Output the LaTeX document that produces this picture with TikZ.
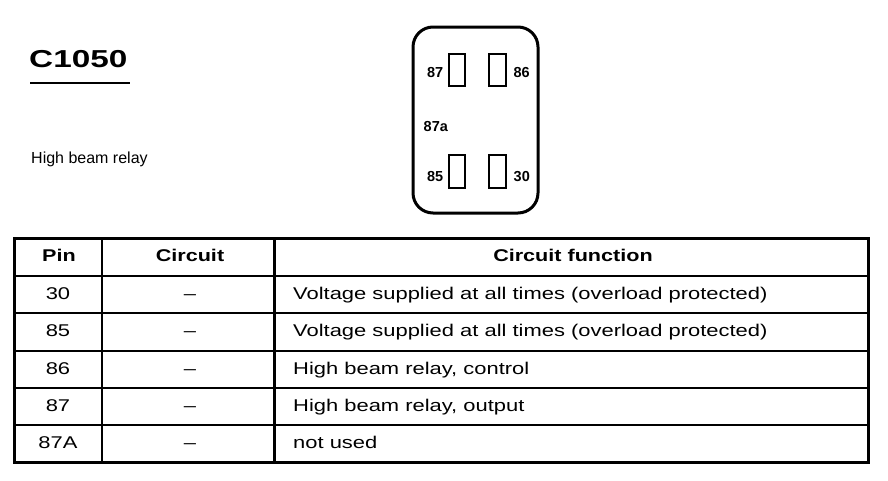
\documentclass[tikz,border=0pt]{standalone}
\usepackage{fontspec}
\setmainfont{Liberation Sans}
\newfontfamily\tabfont[FakeStretch=1.29]{Liberation Sans}
\newfontfamily\headfont[FakeStretch=1.27]{Liberation Sans Bold}
\newfontfamily\titlefont[FakeStretch=1.36]{Liberation Sans Bold}
\begin{document}
\begin{tikzpicture}[x=1pt,y=-1pt,
  cell/.style={inner sep=0pt, anchor=base, font=\tabfont\fontsize{17}{20}\selectfont},
  headcell/.style={inner sep=0pt, anchor=base, font=\headfont\fontsize{17}{20}\selectfont},
  pinlbl/.style={inner sep=0pt, font=\bfseries\fontsize{14.5}{18}\selectfont},
  pinbox/.style={line width=2.5pt},
  rule/.style={line width=2.5pt},
]
\path[use as bounding box, fill=white] (0,0) rectangle (888,480);

% title
\node[anchor=base west, inner sep=0pt, font=\titlefont\fontsize{24.5}{28}\selectfont] (title) at (29,67.5) {C1050};
\coordinate (ulA) at (30,83);
\coordinate (ulB) at (130,83);
\draw[line width=1.5pt] (ulA) -- (ulB);
\node[anchor=base west, inner sep=0pt, font=\fontsize{16}{19}\selectfont] (sub) at (31,163) {High beam relay};

% relay
\draw[line width=3pt, rounded corners=20pt] (413,27) rectangle (538,213);
\draw[pinbox] (449,54) rectangle (465,86);
\draw[pinbox] (489,54) rectangle (506,86);
\draw[pinbox] (449,155) rectangle (465,188);
\draw[pinbox] (489,155) rectangle (506,188);
\node[pinlbl, anchor=base east] (l87) at (443.5,77.3) {87};
\node[pinlbl, anchor=base west] (l86) at (513.3,77.3) {86};
\node[pinlbl, anchor=base west] (l87a) at (423.5,131.7) {87a};
\node[pinlbl, anchor=base east] (l85) at (443.5,181) {85};
\node[pinlbl, anchor=base west] (l30) at (513.5,181) {30};

% table
\draw[line width=3pt] (14.5,238) rectangle (868.5,462);
\foreach \yy in {276,313,351,388,425} \draw[rule] (14.5,\yy) -- (868.5,\yy);
\draw[rule] (102,238) -- (102,462);
\draw[rule] (274.5,238) -- (274.5,462);

\node[headcell] (hpin) at (59,261.5) {Pin};
\node[headcell] (hcir) at (190,261.5) {Circuit};
\node[headcell] (hfun) at (573,261.5) {Circuit function};

\node[cell] (p1) at (58,299) {30};
\node[cell] (p2) at (58,336.5) {85};
\node[cell] (p3) at (58,374) {86};
\node[cell] (p4) at (58,411) {87};
\node[cell] (p5) at (58,448) {87A};

\foreach \yy/\nm in {299/c1,336.5/c2,374/c3,411/c4,448/c5}
  \node[cell] (\nm) at (190,\yy) {–};

\node[cell, anchor=base west] (f1) at (293,299) {Voltage supplied at all times (overload protected)};
\node[cell, anchor=base west] (f2) at (293,336.5) {Voltage supplied at all times (overload protected)};
\node[cell, anchor=base west] (f3) at (293,374) {High beam relay, control};
\node[cell, anchor=base west] (f4) at (293,411) {High beam relay, output};
\node[cell, anchor=base west] (f5) at (293,448) {not used};
\end{tikzpicture}
\end{document}
